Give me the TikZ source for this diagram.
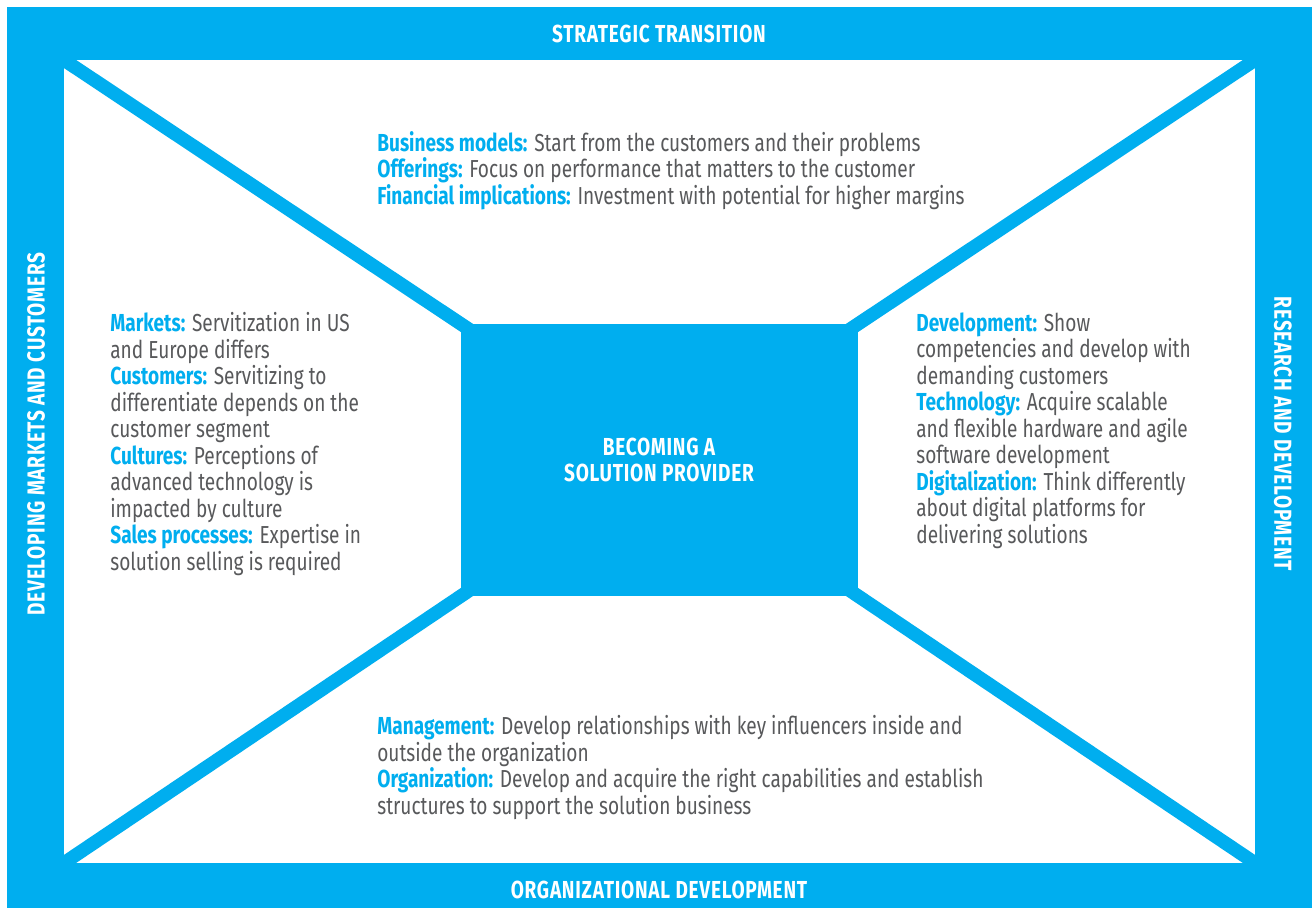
\documentclass[tikz,border=0pt]{standalone}
\usepackage{fontspec}
\setmainfont[FakeStretch=0.775]{Fira Sans}
\newfontfamily\headfont[FakeStretch=0.775, LetterSpace=3]{Fira Sans}
\usepackage{tikz}
\definecolor{sblue}{RGB}{0,174,239}
\definecolor{sgray}{RGB}{88,89,91}
\def\lbl#1{{\color{sblue}\bfseries #1}}
\tikzset{
	bodytext/.style={anchor=north west, inner sep=0pt, align=left, text=sgray, font=\fontsize{14}{15.1}\selectfont},
	bartitle/.style={inner sep=0pt, align=center, text=white, font=\headfont\bfseries\fontsize{14}{15.1}\selectfont}
}

\begin{document}
\begin{tikzpicture}[x=0.02cm, y=-0.02cm]
			%%%%% START %%%%%
			\useasboundingbox (0, 0) rectangle (1312, 908);
			
			\draw[fill=sblue, draw=none] (7, 7) rectangle (1312, 908);
			\draw[fill=white, draw=none] (64, 60) rectangle (1255, 863);
			
			\draw[sblue, line width=0.27cm, shorten <=-20, shorten >=-20] (64, 60) -- (461, 324);
			\draw[sblue, line width=0.27cm, shorten <=-20, shorten >=-20] (1255, 60) -- (858, 324);
			\draw[sblue, line width=0.27cm, shorten <=-20, shorten >=-20] (64, 863) -- (461, 596);
			\draw[sblue, line width=0.27cm, shorten <=-20, shorten >=-20] (1255, 863) -- (858, 596);
			\fill[sblue] (64, 7) rectangle (1255, 60);
			\fill[sblue] (64, 863) rectangle (1255, 908);
			\fill[sblue] (7, 7) rectangle (64, 908);
			\fill[sblue] (1255, 7) rectangle (1312, 908);
			
			\draw[fill=sblue, draw=none] (461, 324) rectangle (858, 596);
			\node[bartitle] (core) at (659, 460) {BECOMING A\\SOLUTION PROVIDER};
			
			\node[bartitle] (strategy) at (659, 34) {STRATEGIC TRANSITION};
			\node[bartitle] (orgdev) at (659, 890) {ORGANIZATIONAL DEVELOPMENT};
			\node[bartitle, rotate=90] (markets) at (36, 434) {DEVELOPING MARKETS AND CUSTOMERS};
			\node[bartitle, rotate=-90] (research) at (1283, 434) {RESEARCH AND DEVELOPMENT};
			
			\node[bodytext] (toptext) at (377, 131) {\lbl{Business models:} Start from the customers and their problems\\
				\lbl{Offerings:} Focus on performance that matters to the customer\\
				\lbl{Financial implications:} Investment with potential for higher margins};
			
			\node[bodytext] (lefttext) at (110, 312) {\lbl{Markets:} Servitization in US\\
				and Europe differs\\
				\lbl{Customers:} Servitizing to\\
				differentiate depends on the\\
				customer segment\\
				\lbl{Cultures:} Perceptions of\\
				advanced technology is\\
				impacted by culture\\
				\lbl{Sales processes:} Expertise in\\
				solution selling is required};
			
			\node[bodytext] (righttext) at (916, 312) {\lbl{Development:} Show\\
				competencies and develop with\\
				demanding customers\\
				\lbl{Technology:} Acquire scalable\\
				and flexible hardware and agile\\
				software development\\
				\lbl{Digitalization:} Think differently\\
				about digital platforms for\\
				delivering solutions};
			
			\node[bodytext] (bottomtext) at (377, 715) {\lbl{Management:} Develop relationships with key influencers inside and\\
				outside the organization\\
				\lbl{Organization:} Develop and acquire the right capabilities and establish\\
				structures to support the solution business};
			%%%%% END %%%%%
\end{tikzpicture}
\end{document}
